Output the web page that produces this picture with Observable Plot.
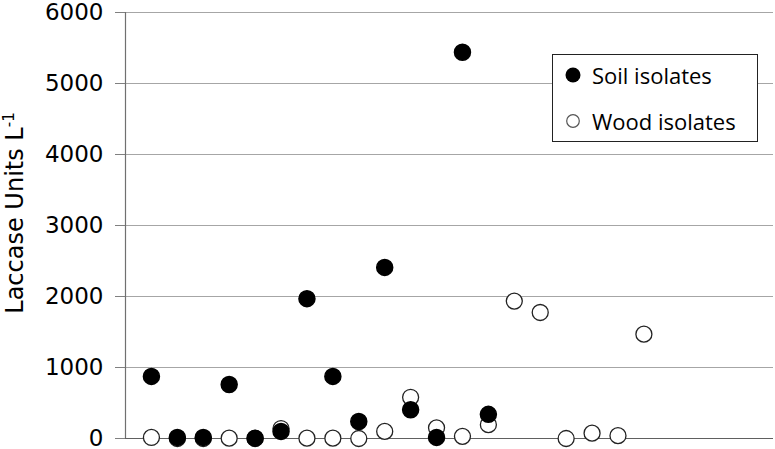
<!DOCTYPE html>
<html><head>
<meta charset="utf-8">
<script src="https://cdn.jsdelivr.net/npm/d3@7"></script>
<script src="https://cdn.jsdelivr.net/npm/@observablehq/plot@0.6"></script>
<style>body{margin:0;background:#fff}</style>
</head><body><div id="chart"></div>
<script>
const soilIndex = [1, 2, 3, 4, 5, 6, 7, 8, 9, 10, 11, 12, 13, 14];
const soilValues = [875, 15, 15, 760, 5, 100, 1970, 875, 240, 2410, 405, 15, 5440, 340];
const woodIndex = [1, 2, 3, 4, 5, 6, 7, 8, 9, 10, 11, 12, 13, 14, 15, 16, 17, 18, 19, 20];
const woodValues = [15, 0, 0, 5, 0, 140, 5, 5, 0, 100, 580, 150, 30, 195, 1935, 1775, 0, 75, 40, 1470];
const yTicks = [0, 1000, 2000, 3000, 4000, 5000, 6000];
const seriesNames = ["Soil isolates", "Wood isolates"];
const yLabel = "Laccase Units L";
const yLabelSup = "-1";

const soil = soilIndex.map((x, i) => ({x, y: soilValues[i]}));
const wood = woodIndex.map((x, i) => ({x, y: woodValues[i]}));

const plot = Plot.plot({
  width: 775, height: 449,
  marginLeft: 125, marginRight: 2, marginTop: 12, marginBottom: 11,
  style: {fontFamily: "DejaVu Sans", fontSize: "23px", color: "black", background: "white", overflow: "visible"},
  x: {domain: [0, 25], axis: null},
  y: {domain: [0, 6000]},
  marks: [
    Plot.gridY(yTicks.filter(d => d > 0), {stroke: "#a6a6a6", strokeOpacity: 1, strokeWidth: 1.2}),
    Plot.axisY(yTicks, {tickSize: 10, tickPadding: 12, fontSize: 23, fontFamily: "DejaVu Sans", tickFormat: d => String(d), label: null, stroke: "#808080", strokeOpacity: 1, fill: "black"}),
    Plot.ruleX([0], {stroke: "#707070", strokeWidth: 1.2}),
    Plot.ruleY([0], {stroke: "#606060", strokeWidth: 1.2}),
    Plot.dot(wood, {x: "x", y: "y", r: 8, fill: "white", stroke: "#222", strokeWidth: 1.3}),
    Plot.dot(soil, {x: "x", y: "y", r: 8, fill: "black", stroke: "black"})
  ]
});
document.getElementById("chart").appendChild(plot);

const svg = d3.select(plot);
// y-axis title
const t = svg.append("text")
  .attr("transform", "translate(23,213) rotate(-90)")
  .attr("text-anchor", "middle")
  .attr("font-family", "DejaVu Sans")
  .attr("font-size", 24)
  .attr("fill", "black");
t.append("tspan").text(yLabel);
t.append("tspan").attr("font-size", 15).attr("dy", -9).text(yLabelSup);

// legend
const lg = svg.append("g").attr("text-anchor", "start");
lg.append("rect").attr("x", 552.5).attr("y", 54.5).attr("width", 205).attr("height", 87)
  .attr("fill", "white").attr("stroke", "#222").attr("stroke-width", 1);
lg.append("circle").attr("cx", 573).attr("cy", 75).attr("r", 7.5).attr("fill", "black");
lg.append("circle").attr("cx", 573).attr("cy", 121).attr("r", 6.3).attr("fill", "white").attr("stroke", "#555").attr("stroke-width", 1.2);
lg.append("text").attr("x", 592).attr("y", 84).attr("font-family", "Open Sans").attr("font-size", 22).attr("fill", "black").text(seriesNames[0]);
lg.append("text").attr("x", 592).attr("y", 130).attr("font-family", "Open Sans").attr("font-size", 22).attr("fill", "black").text(seriesNames[1]);
</script>
</body></html>
